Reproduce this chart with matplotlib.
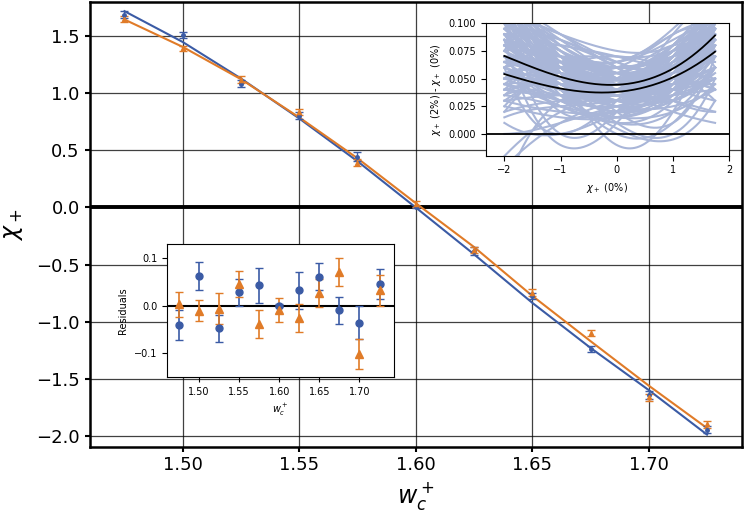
import numpy as np
import matplotlib
matplotlib.use("Agg")
import matplotlib.pyplot as plt

# ---------------- data ----------------
w_c = [1.475, 1.500, 1.525, 1.550, 1.575, 1.600, 1.625, 1.650, 1.675, 1.700, 1.725]

chi_blue = [1.69, 1.51, 1.085, 0.805, 0.445, 0.00, -0.38, -0.775, -1.24, -1.64, -1.946]
chi_orange = [1.65, 1.395, 1.12, 0.836, 0.393, 0.03, -0.373, -0.746, -1.10, -1.664, -1.90]

fit_blue = [1.72, 1.45, 1.13, 0.78, 0.405, 0.00, -0.41, -0.835, -1.23, -1.60, -1.99]
fit_orange = [1.647, 1.407, 1.124, 0.789, 0.431, 0.038, -0.346, -0.774, -1.171, -1.561, -1.933]

resid_blue = [-0.041, 0.063, -0.048, 0.028, 0.043, 0.000, 0.032, 0.061, -0.010, -0.036, 0.046]
err_blue = [0.031, 0.029, 0.029, 0.028, 0.037, 0.003, 0.038, 0.028, 0.029, 0.035, 0.032]
resid_orange = [0.003, -0.011, -0.006, 0.046, -0.039, -0.009, -0.026, 0.027, 0.071, -0.102, 0.032]
err_orange = [0.026, 0.022, 0.032, 0.027, 0.030, 0.026, 0.029, 0.029, 0.030, 0.032, 0.032]

# inset: chi_+(2%) - chi_+(0%)
chi0_nodes = [-2.0, -1.5, -1.0, -0.5, 0.0, 0.5, 1.0, 1.5, 1.75]
band_upper = [0.0705, 0.060, 0.052, 0.0455, 0.0445, 0.0485, 0.059, 0.077, 0.089]
band_lower = [0.054, 0.047, 0.041, 0.0375, 0.038, 0.0425, 0.051, 0.065, 0.0745]

sample_nodes = [-2.0, -1.0, 0.0, 1.0, 1.75]
sample_curves = [
    [0.130, 0.075, 0.050, 0.065, 0.115],
    [0.115, 0.070, 0.055, 0.070, 0.110],
    [0.105, 0.060, 0.045, 0.060, 0.100],
    [0.095, 0.065, 0.050, 0.055, 0.085],
    [0.090, 0.055, 0.040, 0.050, 0.095],
    [0.085, 0.060, 0.048, 0.062, 0.090],
    [0.080, 0.050, 0.035, 0.045, 0.080],
    [0.075, 0.055, 0.045, 0.050, 0.070],
    [0.070, 0.045, 0.030, 0.040, 0.075],
    [0.065, 0.050, 0.040, 0.055, 0.065],
    [0.060, 0.040, 0.025, 0.035, 0.070],
    [0.055, 0.045, 0.035, 0.045, 0.060],
    [0.050, 0.035, 0.020, 0.030, 0.055],
    [0.045, 0.040, 0.030, 0.035, 0.050],
    [0.040, 0.030, 0.025, 0.040, 0.060],
    [0.035, 0.025, 0.015, 0.020, 0.045],
    [0.030, 0.020, 0.020, 0.040, 0.080],
    [0.020, 0.030, 0.035, 0.045, 0.060],
    [0.010, 0.000, 0.020, 0.050, 0.070],
    [-0.030, 0.010, 0.030, 0.050, 0.090],
    [-0.050, 0.030, 0.040, 0.040, 0.060],
    [0.150, 0.050, 0.030, 0.050, 0.100],
    [0.140, 0.040, 0.025, 0.060, 0.130],
    [0.120, 0.090, 0.060, 0.040, 0.030],
    [0.110, 0.080, 0.055, 0.045, 0.050],
    [0.100, 0.090, 0.065, 0.050, 0.040],
    [0.090, 0.085, 0.060, 0.030, 0.020],
    [0.080, 0.070, 0.055, 0.050, 0.030],
    [0.060, 0.080, 0.060, 0.040, 0.060],
    [0.050, 0.070, 0.050, 0.030, 0.080],
    [0.040, 0.060, 0.055, 0.050, 0.040],
    [0.070, 0.030, 0.040, 0.070, 0.080],
    [0.090, 0.040, 0.050, 0.080, 0.060],
    [0.100, 0.020, 0.030, 0.090, 0.120],
    [0.110, 0.000, 0.020, 0.080, 0.100],
    [0.085, -0.010, 0.010, 0.070, 0.090],
    [0.060, 0.000, 0.030, 0.060, 0.040],
    [0.070, 0.050, 0.010, 0.000, 0.050],
    [0.080, 0.060, 0.020, 0.010, 0.070],
    [0.050, 0.040, 0.000, 0.010, 0.060],
    [0.075, 0.055, -0.010, 0.020, 0.090],
    [0.065, 0.060, 0.040, 0.020, 0.010],
    [0.055, 0.050, 0.045, 0.060, 0.100],
    [0.045, 0.055, 0.050, 0.070, 0.110],
    [0.035, 0.045, 0.045, 0.080, 0.120],
    [0.025, 0.050, 0.055, 0.075, 0.095],
    [0.120, 0.065, 0.055, 0.080, 0.105],
    [0.100, 0.075, 0.065, 0.085, 0.100],
    [0.095, 0.070, 0.060, 0.090, 0.085],
    [0.110, 0.060, 0.040, 0.065, 0.070],
    [0.130, 0.060, 0.035, 0.030, 0.060],
    [0.125, 0.045, 0.045, 0.060, 0.080],
    [0.070, 0.065, 0.060, 0.060, 0.075],
    [0.060, 0.060, 0.050, 0.065, 0.090],
    [0.050, 0.050, 0.040, 0.050, 0.080],
    [0.040, 0.035, 0.040, 0.060, 0.090],
    [0.080, 0.045, 0.025, 0.025, 0.040],
    [0.090, 0.050, 0.030, 0.035, 0.100],
    [0.085, 0.040, 0.020, 0.040, 0.110],
    [0.100, 0.050, 0.035, 0.045, 0.075],
    [0.000, 0.010, 0.025, 0.035, 0.040],
    [-0.020, 0.020, 0.035, 0.030, 0.020],
    [0.030, 0.060, 0.070, 0.060, 0.050],
    [0.020, 0.065, 0.065, 0.050, 0.080],
    [0.115, 0.085, 0.070, 0.075, 0.095],
    [0.140, 0.080, 0.065, 0.095, 0.130],
    [0.160, 0.070, 0.045, 0.070, 0.140],
    [0.105, 0.035, 0.015, 0.050, 0.085],
    [0.045, 0.025, 0.010, 0.030, 0.095],
    [0.065, 0.035, 0.005, -0.005, 0.030],
    [0.125, 0.080, 0.060, 0.075, 0.125],
    [0.110, 0.075, 0.050, 0.065, 0.135],
    [0.135, 0.070, 0.045, 0.055, 0.105],
    [0.100, 0.065, 0.040, 0.070, 0.125],
    [0.120, 0.055, 0.035, 0.060, 0.115],
    [0.095, 0.055, 0.045, 0.075, 0.115],
    [0.105, 0.070, 0.050, 0.055, 0.095],
    [0.090, 0.060, 0.035, 0.055, 0.120],
    [0.115, 0.050, 0.040, 0.070, 0.090],
    [0.080, 0.065, 0.055, 0.065, 0.105],
    [0.075, 0.060, 0.040, 0.060, 0.110],
    [0.085, 0.070, 0.060, 0.070, 0.085],
    [0.070, 0.055, 0.050, 0.065, 0.100],
    [0.065, 0.045, 0.035, 0.060, 0.105],
    [0.060, 0.055, 0.045, 0.060, 0.085],
    [0.055, 0.040, 0.030, 0.050, 0.095],
    [0.050, 0.045, 0.040, 0.055, 0.075],
    [0.045, 0.035, 0.030, 0.045, 0.085],
    [0.040, 0.045, 0.045, 0.055, 0.070],
    [0.030, 0.035, 0.035, 0.050, 0.100],
    [0.135, 0.055, 0.040, 0.075, 0.095],
    [0.145, 0.065, 0.050, 0.065, 0.090],
    [0.150, 0.060, 0.030, 0.040, 0.125],
    [0.130, 0.085, 0.050, 0.040, 0.110],
    [0.125, 0.050, 0.025, 0.045, 0.140],
    [0.100, 0.080, 0.070, 0.060, 0.075],
    [0.095, 0.060, 0.055, 0.080, 0.130],
    [0.110, 0.065, 0.045, 0.050, 0.120],
    [0.085, 0.050, 0.040, 0.065, 0.130],
    [0.075, 0.045, 0.045, 0.075, 0.110],
    [0.065, 0.070, 0.055, 0.055, 0.095],
    [0.055, 0.060, 0.060, 0.070, 0.085],
    [0.100, 0.045, 0.030, 0.055, 0.100],
    [0.090, 0.075, 0.050, 0.045, 0.070],
    [0.070, 0.040, 0.020, 0.045, 0.100],
    [0.060, 0.030, 0.015, 0.035, 0.080],
    [0.050, 0.025, 0.020, 0.050, 0.070],
    [0.035, 0.030, 0.010, 0.020, 0.060],
    [0.025, 0.015, 0.015, 0.030, 0.050],
    [0.015, 0.025, 0.030, 0.040, 0.045],
    [0.120, 0.075, 0.065, 0.090, 0.100],
    [0.110, 0.090, 0.075, 0.080, 0.115],
    [0.105, 0.055, 0.050, 0.075, 0.110],
    [0.090, 0.065, 0.060, 0.075, 0.120],
    [0.080, 0.055, 0.035, 0.040, 0.085],
]

xticks_main = [1.50, 1.55, 1.60, 1.65, 1.70]
yticks_main = [-2.0, -1.5, -1.0, -0.5, 0.0, 0.5, 1.0, 1.5]

BLUE = "#3b5ba5"
ORANGE = "#e07b28"
LIGHT = "#a9b6d8"

# ---------------- figure ----------------
fig = plt.figure(figsize=(7.44, 5.12), dpi=100)
ax = fig.add_axes([0.1203, 0.1275, 0.877, 0.8685])

ax.plot(w_c, fit_blue, color=BLUE, lw=1.5, zorder=3)
ax.plot(w_c, fit_orange, color=ORANGE, lw=1.5, zorder=3)
ax.errorbar(w_c, chi_blue, yerr=err_blue, fmt='.', color=BLUE, ms=5,
            capsize=3, elinewidth=1, zorder=4)
ax.errorbar(w_c, chi_orange, yerr=err_orange, fmt='^', color=ORANGE, ms=3,
            capsize=3, elinewidth=1, zorder=4)
ax.axhline(0, color='k', lw=2.8, zorder=2)
ax.grid(True, color='k', lw=0.9, alpha=0.75)
ax.set_axisbelow(True)
ax.set_xlim(1.46, 1.74)
ax.set_ylim(-2.096, 1.80)
ax.set_xticks(xticks_main)
ax.set_yticks(yticks_main)
ax.tick_params(labelsize=13, width=1.5)
for s in ax.spines.values():
    s.set_linewidth(1.8)
ax.set_xlabel(r"$w_c^+$", fontsize=17)
ax.set_ylabel(r"$\chi_+$", fontsize=17, labelpad=8)

# residual inset
axr = fig.add_axes([0.2245, 0.2637, 0.305, 0.26])
axr.axhline(0, color='k', lw=1.5, zorder=1)
axr.errorbar(w_c, resid_blue, yerr=err_blue, fmt='o', color=BLUE, ms=5,
             capsize=3, elinewidth=1.2, zorder=3)
axr.errorbar(w_c, resid_orange, yerr=err_orange, fmt='^', color=ORANGE, ms=5.5,
             capsize=3, elinewidth=1.2, zorder=3)
axr.set_xlim(1.46, 1.743)
axr.set_ylim(-0.15, 0.13)
axr.set_xticks(xticks_main)
axr.set_yticks([-0.1, 0.0, 0.1])
axr.tick_params(labelsize=7)
axr.set_ylabel("Residuals", fontsize=7)
axr.set_xlabel(r"$w_c^+$", fontsize=7)

# top-right inset
axi = fig.add_axes([0.653, 0.696, 0.327, 0.2586])
xs = np.linspace(sample_nodes[0], sample_nodes[-1], 200)
for cv in sample_curves:
    coef = np.polyfit(sample_nodes, cv, len(sample_nodes) - 1)
    axi.plot(xs, np.polyval(coef, xs), color=LIGHT, lw=1.5, zorder=1)
xb = np.linspace(chi0_nodes[0], chi0_nodes[-1], 200)
for band in (band_upper, band_lower):
    coef = np.polyfit(chi0_nodes, band, 4)
    axi.plot(xb, np.polyval(coef, xb), color='k', lw=1.3, zorder=3)
axi.axhline(0, color='k', lw=1.3, zorder=3)
axi.set_xlim(-2.33, 2.0)
axi.set_ylim(-0.0196, 0.100)
axi.set_xticks([-2, -1, 0, 1, 2])
axi.set_yticks([0.0, 0.025, 0.05, 0.075, 0.1])
axi.set_yticklabels(["0.000", "0.025", "0.050", "0.075", "0.100"])
axi.tick_params(labelsize=7)
axi.set_xlabel(r"$\chi_+$ (0%)", fontsize=7)
axi.set_ylabel(r"$\chi_+$ (2%) - $\chi_+$ (0%)", fontsize=7)

fig.savefig("out.png", dpi=100)
